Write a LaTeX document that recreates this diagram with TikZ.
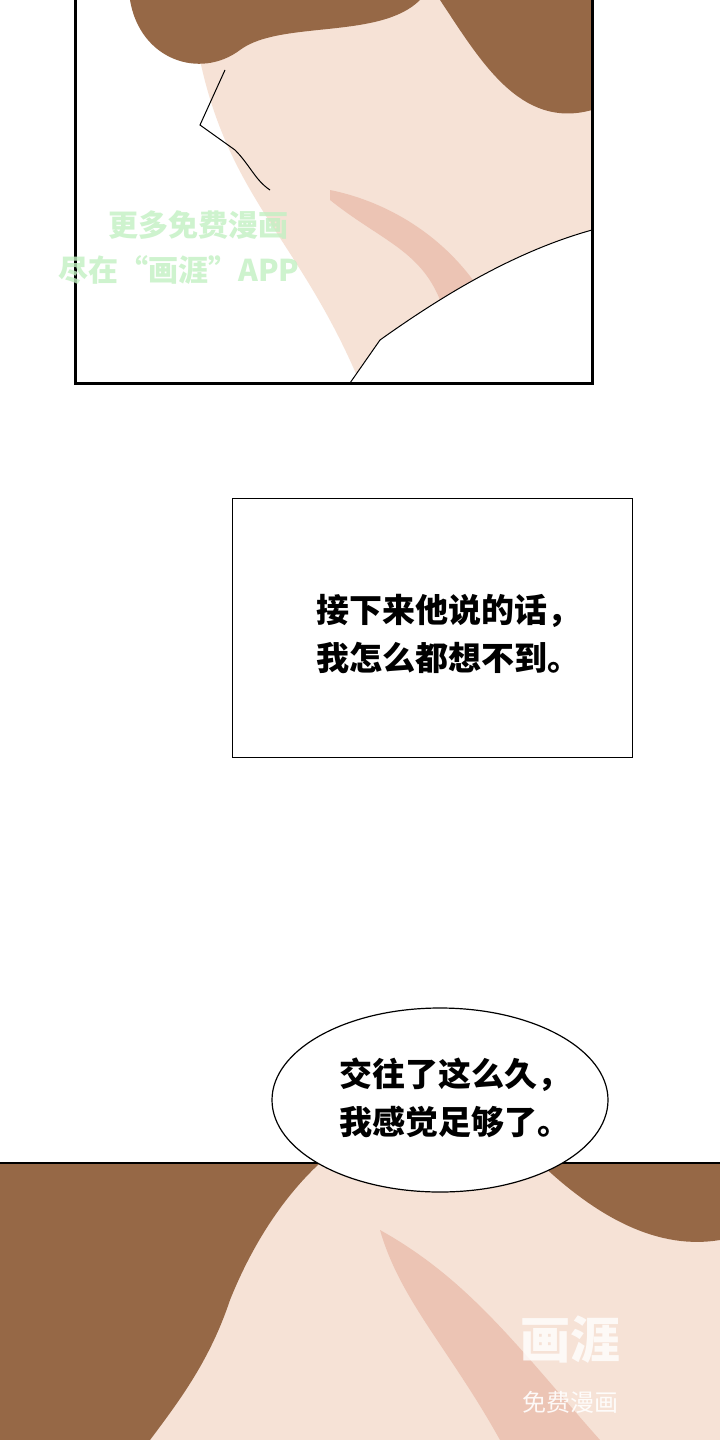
\documentclass[tikz,border=0pt]{standalone}
\usepackage{fontspec}
\newfontfamily\cjk{Noto Sans CJK SC}
\begin{document}
\begin{tikzpicture}[x=1pt,y=-1pt,
  panel/.style={draw=black,line width=3pt},
  caption/.style={draw=black,line width=1pt,fill=white},
  bubble/.style={draw=black,line width=1.2pt,fill=white},
  saying/.style={font=\cjk\bfseries\fontsize{33}{48}\selectfont,align=left,text=black},
  watermark/.style={font=\cjk\bfseries\fontsize{30}{34}\selectfont,text=gray!40!green!30,opacity=0.8}]
\definecolor{skin}{RGB}{246,226,214}
\definecolor{blush}{RGB}{236,196,180}
\definecolor{hair}{RGB}{150,104,70}
\useasboundingbox (0,0) rectangle (720,1440);
\fill[white] (0,0) rectangle (720,1440);
% upper panel
\begin{scope}
\clip (75,0) rectangle (592,383);
\fill[skin] (200,60) .. controls (230,200) and (300,240) .. (360,383) -- (592,383) -- (592,0) -- (200,0) -- cycle;
\fill[blush] (330,200) .. controls (380,240) and (420,250) .. (440,300) -- (480,290) .. controls (440,230) and (380,200) .. (330,190) -- cycle;
\fill[hair] (130,0) .. controls (140,60) and (200,80) .. (240,50) .. controls (280,20) and (380,40) .. (420,0) -- cycle;
\fill[hair] (440,0) .. controls (480,60) and (520,130) .. (592,110) -- (592,0) -- cycle;
\draw[line width=1pt] (225,70) -- (200,125) -- (235,150) .. controls (250,165) and (255,180) .. (270,190);
\fill[white] (350,383) -- (380,340) .. controls (450,290) and (520,250) .. (592,230) -- (592,383) -- cycle;
\draw[line width=1pt] (350,383) -- (380,340) .. controls (450,290) and (520,250) .. (592,230);
\end{scope}
\draw[panel] (75,-5) -- (75,383) -- (592,383) -- (592,-5);
\node[watermark,anchor=west] (markA) at (105,225) {更多免费漫画};
\node[watermark,anchor=west] (markB) at (55,270) {尽在“画涯”APP};
% caption box
\draw[caption] (232,498) rectangle (632,757);
\node[saying] (captionText) at (448,634) {接下来他说的话，\\我怎么都想不到。};
% lower panel
\fill[skin] (0,1163) rectangle (720,1440);
\fill[blush] (380,1230) .. controls (470,1280) and (520,1350) .. (600,1440) -- (500,1440) .. controls (450,1350) and (400,1300) .. (380,1230) -- cycle;
\fill[hair] (0,1163) -- (320,1163) .. controls (280,1200) and (250,1250) .. (230,1300) .. controls (210,1360) and (180,1400) .. (150,1440) -- (0,1440) -- cycle;
\fill[hair] (540,1163) -- (720,1163) -- (720,1240) .. controls (660,1250) and (600,1220) .. (540,1163) -- cycle;
\draw[line width=2.5pt] (0,1163) -- (720,1163);
% bubble
\draw[bubble] (440,1100) ellipse (168 and 92);
\node[saying] (bubbleText) at (455,1098) {交往了这么久，\\我感觉足够了。};
% corner mark
\node[font=\cjk\bfseries\fontsize{50}{54}\selectfont,text=white,opacity=0.8] (logo) at (570,1340) {画涯};
\node[font=\cjk\fontsize{24}{28}\selectfont,text=white,opacity=0.9] (logoSub) at (570,1402) {免费漫画};
\end{tikzpicture}
\end{document}
